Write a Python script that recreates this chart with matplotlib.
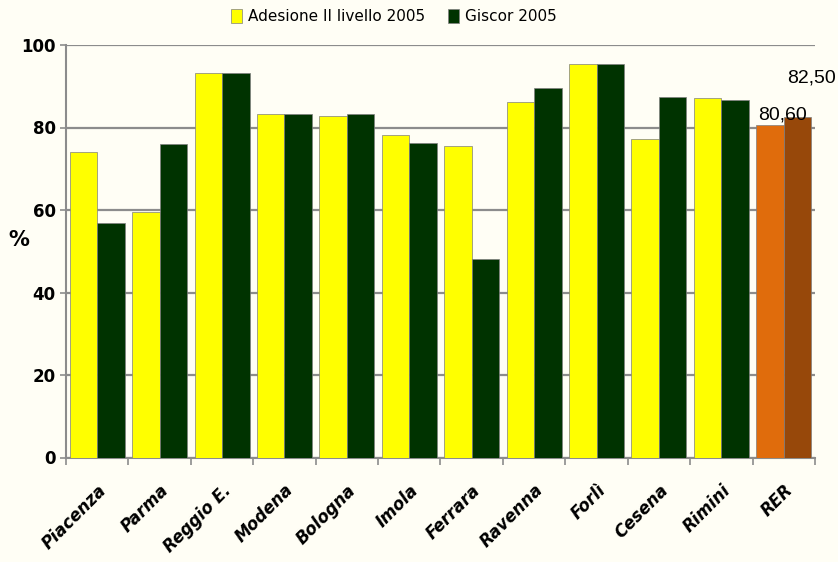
import numpy as np
import matplotlib.pyplot as plt

# dati
categorie = ['Piacenza', 'Parma', 'Reggio E.', 'Modena', 'Bologna', 'Imola',
             'Ferrara', 'Ravenna', 'Forlì', 'Cesena', 'Rimini', 'RER']
adesione = [74.0, 59.6, 93.1, 83.3, 82.8, 78.2, 75.4, 86.2, 95.5, 77.2, 87.1, 80.6]
giscor = [56.8, 75.9, 93.1, 83.3, 83.3, 76.3, 48.2, 89.5, 95.5, 87.5, 86.6, 82.5]
etichette_rer = ['80,60', '82,50']
yticks = [0, 20, 40, 60, 80, 100]

bg = '#FFFEF5'
fig = plt.figure(figsize=(8.38, 5.62), dpi=100, facecolor=bg)
ax = fig.add_axes([66 / 838, 1 - 457.5 / 562, (815 - 66) / 838, (457.5 - 45) / 562])
ax.set_facecolor(bg)

x = np.arange(len(categorie))
w = 0.44
col_a = ['#FFFF00'] * (len(categorie) - 1) + ['#E06C0C']
col_g = ['#003300'] * (len(categorie) - 1) + ['#97480A']
ax.bar(x - w / 2, adesione, w, color=col_a, edgecolor='#7f7f7f', linewidth=0.5,
       label='Adesione II livello 2005', zorder=3)
ax.bar(x + w / 2, giscor, w, color=col_g, edgecolor='#7f7f7f', linewidth=0.5,
       label='Giscor 2005', zorder=3)

ax.set_xlim(-0.5, len(categorie) - 0.5)
ax.set_ylim(0, 100)
ax.set_yticks(yticks)
ax.set_yticklabels([str(v) for v in yticks], fontsize=12, fontweight='bold')
ax.grid(axis='y', color='#8c8c8c', linewidth=1.6, zorder=0)
ax.tick_params(axis='y', length=4.5, color='#8c8c8c', width=1.2, pad=3)

ax.set_xticks(x)
ax.set_xticklabels(categorie, rotation=45, ha='right', rotation_mode='anchor',
                   fontsize=12, fontweight='bold', fontstyle='italic')
ax.tick_params(axis='x', length=0, pad=17)
ax.set_xticks(np.arange(-0.5, len(categorie)), minor=True)
ax.tick_params(axis='x', which='minor', length=5, color='#8c8c8c', width=1.2)

for s in ['top', 'right']:
    ax.spines[s].set_visible(False)
for s in ['left', 'bottom']:
    ax.spines[s].set_color('#8c8c8c')
    ax.spines[s].set_linewidth(1.5)

ax.text(-0.063, 0.527, '%', transform=ax.transAxes, fontsize=15, fontweight='bold',
        ha='center', va='center')

# etichette RER
ax.annotate(etichette_rer[0], (x[-1] - w, adesione[-1]), xytext=(1, 1),
            textcoords='offset points', fontsize=14, family='Liberation Sans',
            ha='left', va='bottom')
ax.annotate(etichette_rer[1], (x[-1] + w, giscor[-1]), xytext=(18, 22),
            textcoords='offset points', fontsize=14, family='Liberation Sans',
            ha='right', va='bottom')

fig.legend(loc='upper center', bbox_to_anchor=(0.47, 1.008), ncol=2, frameon=False,
           fontsize=11, handlelength=0.7, handleheight=1.0, columnspacing=1.5,
           handletextpad=0.4)

fig.savefig('out.png', dpi=100, facecolor=bg)
